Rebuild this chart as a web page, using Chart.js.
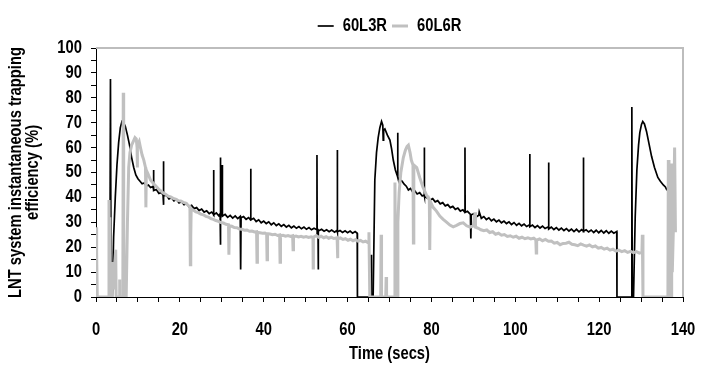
<!DOCTYPE html>
<html lang="en">
<head>
    <meta charset="UTF-8">
    <title>LNT trapping efficiency</title>
    <script src="https://cdn.jsdelivr.net/npm/chart.js"></script>
    <style>
        html, body { margin: 0; padding: 0; background: #fff; }
        #box { width: 702px; height: 365px; }
    </style>
</head>
<body>
    <div id="box"><canvas id="grafico"></canvas></div>

    <script>
        // 60L3R (black) - time in secs and efficiency in %
        const timeL3R = [0, 3.3, 3.45, 3.6, 3.9, 4.2, 4.6, 5.0, 5.4, 5.8, 6.2, 6.6, 7.0, 7.5, 8.0, 8.5, 9.0, 9.5, 10.0, 10.5,
            11.0, 11.5, 12.0, 12.5, 13.0, 13.6, 13.7, 13.8, 14.4, 15.0, 15.6, 16.0, 16.05, 16.1, 16.2, 16.8, 17.4, 18.0, 18.6, 19.2,
            19.8, 20.4, 21.0, 21.6, 22.2, 22.8, 23.4, 24.0, 24.6, 25.2, 25.8, 26.4, 27.0, 27.6, 28.0, 28.05, 28.1, 28.7, 29.3, 29.6,
            29.65, 29.7, 29.75, 30.05, 30.1, 30.15, 30.8, 31.4, 32.0, 32.6, 33.2, 33.8, 34.4, 34.5, 34.6, 35.2, 35.8, 36.4, 36.85, 36.9,
            36.95, 37.6, 38.2, 38.8, 39.4, 40.0, 40.6, 41.2, 41.8, 42.4, 43.0, 43.6, 44.2, 44.8, 45.4, 46.0, 46.6, 47.2, 47.8, 48.4,
            49.0, 49.6, 50.2, 50.8, 51.4, 52.0, 52.65, 52.7, 52.75, 52.95, 53.0, 53.05, 53.8, 54.4, 55.0, 55.6, 56.2, 56.9, 57.5, 57.55,
            57.6, 58.2, 58.8, 59.4, 60.0, 60.6, 61.2, 61.8, 62.3, 62.35, 65.5, 65.6, 65.7, 66.1, 66.5, 66.9, 67.3, 67.7, 68.1, 68.4,
            68.5, 68.6, 68.9, 69.5, 70.1, 70.5, 70.9, 71.4, 71.9, 71.95, 72.0, 72.5, 73.0, 73.5, 74.0, 74.5, 75.0, 75.5, 76.0, 76.6,
            77.2, 77.8, 78.25, 78.3, 78.35, 79.0, 79.7, 80.3, 80.9, 81.5, 82.1, 82.7, 83.3, 83.9, 84.5, 85.1, 85.7, 86.3, 86.9, 87.5,
            87.95, 88.0, 88.05, 88.6, 89.3, 89.4, 89.5, 90.1, 90.7, 91.3, 91.4, 91.9, 92.5, 93.1, 93.7, 94.3, 94.9, 95.5, 96.1, 96.7,
            97.3, 97.9, 98.5, 99.1, 99.7, 100.3, 100.9, 101.5, 102.1, 102.7, 103.4, 103.45, 103.5, 104.1, 104.7, 105.3, 105.9, 106.5, 107.1, 107.9,
            107.95, 108.0, 108.6, 109.2, 109.8, 110.4, 111.0, 111.6, 112.2, 112.8, 113.4, 114.0, 114.6, 115.2, 115.8, 116.2, 116.25, 116.3, 116.9, 117.5,
            118.1, 118.7, 119.3, 119.9, 120.5, 121.1, 121.7, 122.3, 122.9, 123.5, 124.2, 124.25, 127.7, 127.8, 127.9, 128.2, 128.6, 129.0, 129.4, 129.7,
            130.1, 130.4, 130.8, 131.3, 131.9, 132.5, 133.2, 134.0, 134.6, 135.3, 135.8, 136.1, 136.6, 137.0, 137.3];
        const effL3R = [0, 0, 87.5, 0, 0, 24, 40, 53, 62, 68, 70.5, 70, 68.5, 65, 61, 56, 52, 49, 47.5, 46.5,
            45.5, 45.8, 44.6, 45.0, 44.0, 44.4, 51, 42.8, 43.2, 41.6, 42.0, 40.8, 54.5, 37, 40.6, 40.9, 39.4, 39.9, 38.6, 39.2,
            37.8, 38.3, 37.1, 37.6, 36.3, 36.8, 35.5, 35.9, 34.7, 35.3, 34.1, 34.6, 33.5, 34.1, 33.2, 51, 33.0, 33.8, 32.6, 33.4,
            56, 21, 33, 32.8, 53, 32.5, 33.2, 32.0, 32.8, 31.7, 32.6, 31.5, 32.4, 11, 31.8, 32.3, 31.2, 31.9, 31.0, 51.5,
            31.0, 31.6, 30.3, 31.0, 29.8, 30.5, 29.5, 30.2, 29.0, 29.8, 28.7, 29.4, 28.4, 29.1, 28.1, 28.8, 27.8, 28.5, 27.6, 28.3,
            27.4, 28.1, 27.2, 27.9, 27.0, 27.6, 27.0, 57, 26.0, 26.5, 11, 26.5, 27.2, 26.4, 27.0, 26.2, 26.9, 26.0, 26.8, 59,
            26.2, 26.7, 25.9, 26.6, 25.8, 26.5, 25.6, 26.3, 25.6, 0, 0, 17, 0, 0, 47, 58, 64, 68, 70.5, 69,
            63, 67, 67.5, 65, 63, 59.5, 55, 51, 48.5, 66, 48, 47, 46.5, 45.3, 44.5, 43, 43.6, 42.2, 42.7, 41.4,
            41.9, 40.6, 41.0, 60, 40.4, 39.8, 39.0, 39.5, 38.2, 38.7, 37.4, 37.9, 36.6, 37.1, 35.9, 36.4, 35.2, 35.7, 34.5, 35.0,
            34.1, 60, 34.0, 34.4, 33.2, 23.5, 33.0, 33.4, 32.2, 32.8, 34.2, 31.6, 32.3, 31.1, 31.8, 30.6, 31.3, 30.2, 30.9, 29.8,
            30.5, 29.5, 30.2, 29.1, 29.9, 28.8, 29.6, 28.6, 29.3, 28.3, 29.0, 57.4, 28.2, 28.9, 27.9, 28.7, 27.7, 28.5, 27.5, 28.2,
            54, 27.3, 28.1, 27.1, 27.9, 26.9, 27.7, 26.7, 27.5, 26.5, 27.3, 26.3, 27.2, 26.2, 27.1, 26.5, 56, 26.4, 27.0, 26.1,
            26.9, 25.9, 26.8, 25.8, 26.7, 25.7, 26.6, 25.6, 26.5, 25.6, 26.3, 0, 0, 76.3, 0, 0, 32, 51, 61, 66,
            69.3, 70.5, 69.5, 66.5, 61.5, 56.5, 52, 48, 46.5, 45, 44.2, 43.2, 42.4, 41, 40.5];

        // 60L6R (grey)
        const timeL6R = [0, 0.15, 0.3, 3.0, 3.1, 3.2, 3.3, 3.45, 3.8, 3.9, 4.1, 4.4, 4.7, 4.8, 5.5, 5.6, 5.7, 6.4, 6.5, 6.6,
            6.7, 7.2, 7.5, 7.8, 8.1, 8.5, 8.9, 9.3, 9.6, 9.8, 9.85, 9.9, 10.3, 10.6, 11.0, 11.4, 11.8, 11.9, 12.0, 12.4,
            13.0, 13.5, 14.0, 14.5, 15.0, 15.5, 16.0, 16.6, 17.2, 17.8, 18.4, 19.0, 19.6, 20.2, 20.8, 21.4, 22.0, 22.4, 22.5, 22.6,
            22.7, 23.2, 23.8, 24.4, 25.0, 25.6, 26.2, 26.8, 27.4, 28.0, 28.6, 29.2, 29.8, 30.4, 31.0, 31.6, 31.7, 31.8, 32.4, 33.0,
            33.6, 34.2, 34.8, 35.4, 36.0, 36.6, 37.2, 37.8, 38.3, 38.4, 38.5, 39.1, 39.7, 40.3, 40.7, 40.8, 40.9, 41.5, 42.1, 42.7,
            43.3, 43.8, 43.9, 44.0, 44.6, 45.2, 45.8, 46.4, 46.9, 47.0, 47.1, 47.7, 48.3, 48.9, 49.5, 50.1, 50.7, 51.3, 51.75, 51.8,
            51.85, 52.5, 53.1, 53.7, 54.3, 54.9, 55.5, 56.1, 56.7, 57.5, 57.6, 57.7, 58.3, 58.9, 59.5, 60.1, 60.7, 61.3, 61.9, 62.5,
            63.1, 63.7, 64.3, 64.9, 65.1, 65.3, 67.9, 68.0, 68.1, 69.1, 69.2, 69.3, 71.1, 71.3, 71.5, 71.9, 72.0, 72.3, 72.7, 73.3,
            73.8, 74.2, 74.5, 74.9, 75.2, 75.6, 75.7, 75.8, 76.5, 77.2, 78.0, 78.8, 79.5, 79.6, 79.7, 80.4, 81.2, 82.0, 82.8, 83.6,
            84.4, 85.2, 86.0, 86.8, 87.6, 88.4, 89.2, 90.0, 90.4, 90.5, 91.2, 91.8, 92.5, 93.2, 93.9, 94.6, 95.3, 96.0, 96.7, 97.4,
            98.1, 98.8, 99.5, 100.2, 100.9, 101.6, 102.3, 103.0, 103.7, 104.4, 104.9, 105.0, 105.1, 105.8, 106.5, 107.2, 107.9, 108.6, 109.3, 110.0,
            110.7, 111.4, 112.1, 112.8, 113.5, 114.2, 114.9, 115.6, 116.3, 117.0, 117.7, 118.4, 119.1, 119.8, 120.5, 121.2, 121.9, 122.6, 123.3, 124.0,
            124.7, 125.4, 126.1, 126.8, 127.5, 128.2, 128.9, 129.6, 130.2, 130.3, 130.45, 136.4, 136.5, 136.65, 137.2, 137.3, 137.45, 137.7, 138.0, 138.2];
        const effL6R = [28, 18, 0, 0, 39, 10, 32, 0, 0, 14, 3, 12, 19, 0, 0, 7, 0, 0, 82, 30,
            0, 0, 30, 52, 58, 61, 62.5, 64, 63.5, 60, 52, 61, 62.5, 60, 57, 55, 52, 36, 51, 49.5,
            47, 46, 45, 44.2, 43.2, 42.6, 41.8, 41.3, 40.5, 40.2, 39.6, 39.3, 38.7, 38.6, 38.0, 37.7, 36.8, 36.3, 13, 24,
            35.5, 34.9, 34.2, 33.9, 33.3, 33.0, 32.4, 32.1, 31.5, 31.2, 30.7, 30.4, 29.9, 29.7, 29.2, 29.0, 17, 28.6, 28.4, 27.9,
            27.8, 27.3, 27.2, 26.8, 26.9, 26.4, 26.5, 26.1, 26.2, 14, 26.0, 25.8, 25.6, 25.7, 25.3, 15, 25.4, 25.3, 25.0, 25.2,
            24.7, 24.9, 14, 24.6, 24.8, 24.4, 24.7, 24.3, 24.6, 19, 24.2, 24.5, 24.1, 24.4, 24.0, 24.3, 23.9, 24.2, 23.9, 11.6,
            24.0, 24.6, 24.0, 24.4, 23.8, 24.2, 23.6, 24.0, 23.5, 23.8, 15.6, 23.4, 23.7, 23.1, 23.4, 22.8, 23.2, 22.6, 23.0, 22.4,
            22.7, 22.1, 22.4, 21.8, 26, 0, 0, 25, 0, 0, 8, 0, 0, 46, 0, 0, 30, 42, 50, 56,
            59, 60.5, 61, 58, 55, 53, 21.7, 53, 52, 48, 44, 41, 39, 18.9, 38.5, 36, 34.5, 32.5, 31.2, 30.1,
            28.9, 28.2, 28.8, 29.5, 29.8, 28.6, 28.1, 28.6, 34, 28.0, 27.6, 27.0, 26.6, 26.9, 25.9, 26.2, 25.2, 25.6, 24.8, 25.1,
            24.3, 24.6, 24.0, 24.4, 23.6, 24.0, 23.4, 23.8, 23.3, 23.6, 23.0, 17.7, 22.9, 23.3, 22.6, 23.1, 22.4, 22.5, 21.6, 21.9,
            21.0, 21.5, 21.6, 22.0, 21.2, 21.0, 20.6, 21.3, 20.8, 20.4, 20.9, 20.1, 20.5, 19.6, 19.9, 19.2, 19.6, 18.8, 19.2, 18.4,
            18.8, 18.2, 18.6, 17.9, 18.3, 17.8, 18.2, 17.6, 17.9, 25, 0, 0, 55, 0, 0, 53.6, 10, 27, 60, 26];

        const seriesNames = ['60L3R', '60L6R'];
        const xTicks = { min: 0, max: 140, step: 5, labelEvery: 20 };
        const yTicks = { min: 0, max: 100, step: 5, labelEvery: 10 };

        Chart.defaults.font.family = "'Liberation Sans', Arial, sans-serif";
        Chart.defaults.font.size = 18;
        Chart.defaults.font.weight = 'bold';
        Chart.defaults.color = '#000';

        const juntar = (ts, vs) => ts.map((t, i) => ({ x: t, y: vs[i] }));

        // no narrow face installed: squeeze the normal one the way Arial Narrow does (82 %)
        const ESTREITO = 0.82;
        const textoEstreito = {
            id: 'textoEstreito',
            beforeInit(chart) {
                const ctx = chart.ctx;
                const fill = ctx.fillText.bind(ctx);
                const medir = ctx.measureText.bind(ctx);
                ctx.fillText = function (t, x, y, maxW) {
                    ctx.save();
                    ctx.translate(x, y);
                    ctx.scale(ESTREITO, 1);
                    if (maxW === undefined) fill(t, 0, 0); else fill(t, 0, 0, maxW / ESTREITO);
                    ctx.restore();
                };
                ctx.measureText = function (t) {
                    const m = medir(t);
                    return {
                        width: m.width * ESTREITO,
                        actualBoundingBoxAscent: m.actualBoundingBoxAscent,
                        actualBoundingBoxDescent: m.actualBoundingBoxDescent,
                        actualBoundingBoxLeft: m.actualBoundingBoxLeft * ESTREITO,
                        actualBoundingBoxRight: m.actualBoundingBoxRight * ESTREITO
                    };
                };
            }
        };

        // fixed box sizes so the plot area lands where the original one is
        const caixas = {
            id: 'caixas',
            beforeInit(chart) {
                const lg = chart.legend;
                const fitOrig = lg.fit;
                lg.fit = function () { fitOrig.call(this); this.height = 36; };
            }
        };

        // grey frame on top and right of the plot area
        const moldura = {
            id: 'moldura',
            beforeDatasetsDraw(chart) {
                const { ctx, chartArea: a } = chart;
                ctx.save();
                ctx.strokeStyle = '#bdbdbd';
                ctx.lineWidth = 2;
                ctx.beginPath();
                ctx.moveTo(a.left, a.top);
                ctx.lineTo(a.right, a.top);
                ctx.lineTo(a.right, a.bottom);
                ctx.stroke();
                ctx.restore();
            }
        };

        const eixoGrid = { display: true, drawOnChartArea: false, drawTicks: true, tickLength: 5, color: '#000', lineWidth: 1 };

        new Chart(document.getElementById('grafico'), {
            type: 'line',
            data: {
                datasets: [{
                    label: seriesNames[0],
                    data: juntar(timeL3R, effL3R),
                    borderColor: '#000',
                    backgroundColor: '#000',
                    borderWidth: 1.7,
                    pointRadius: 0,
                    tension: 0,
                    order: 2
                }, {
                    label: seriesNames[1],
                    data: juntar(timeL6R, effL6R),
                    borderColor: '#c0c0c0',
                    backgroundColor: '#c0c0c0',
                    borderWidth: 3,
                    pointRadius: 0,
                    tension: 0,
                    order: 1
                }]
            },
            options: {
                responsive: true,
                maintainAspectRatio: false,
                animation: false,
                layout: { padding: { left: 0, right: 19, top: 12, bottom: 0 } },
                plugins: {
                    legend: {
                        position: 'top',
                        fullSize: false,
                        labels: {
                            usePointStyle: true,
                            pointStyle: 'line',
                            pointStyleWidth: 16,
                            padding: 5,
                            sort: (a, b) => a.datasetIndex - b.datasetIndex
                        }
                    },
                    tooltip: { enabled: false }
                },
                scales: {
                    x: {
                        type: 'linear',
                        min: xTicks.min,
                        max: xTicks.max,
                        afterFit: s => { s.height = 68; s.paddingLeft = 0; s.paddingRight = 0; },
                        grid: eixoGrid,
                        border: { display: true, color: '#000', width: 1 },
                        ticks: {
                            stepSize: xTicks.step,
                            autoSkip: false,
                            maxRotation: 0,
                            padding: 17,
                            callback: v => (v % xTicks.labelEvery === 0 ? v : '')
                        },
                        title: { display: true, text: 'Time (secs)', padding: { top: 0, bottom: 0 } }
                    },
                    y: {
                        min: yTicks.min,
                        max: yTicks.max,
                        afterFit: s => { s.width = 96; },
                        grid: eixoGrid,
                        border: { display: true, color: '#000', width: 1 },
                        ticks: {
                            stepSize: yTicks.step,
                            autoSkip: false,
                            padding: 9,
                            callback: v => (v % yTicks.labelEvery === 0 ? v : '')
                        },
                        title: {
                            display: true,
                            text: ['LNT system instantaneous trapping', 'efficiency (%)'],
                            padding: { top: 7, bottom: 0 },
                            font: { lineHeight: 0.95 }
                        }
                    }
                }
            },
            plugins: [textoEstreito, caixas, moldura]
        });
    </script>
</body>
</html>
